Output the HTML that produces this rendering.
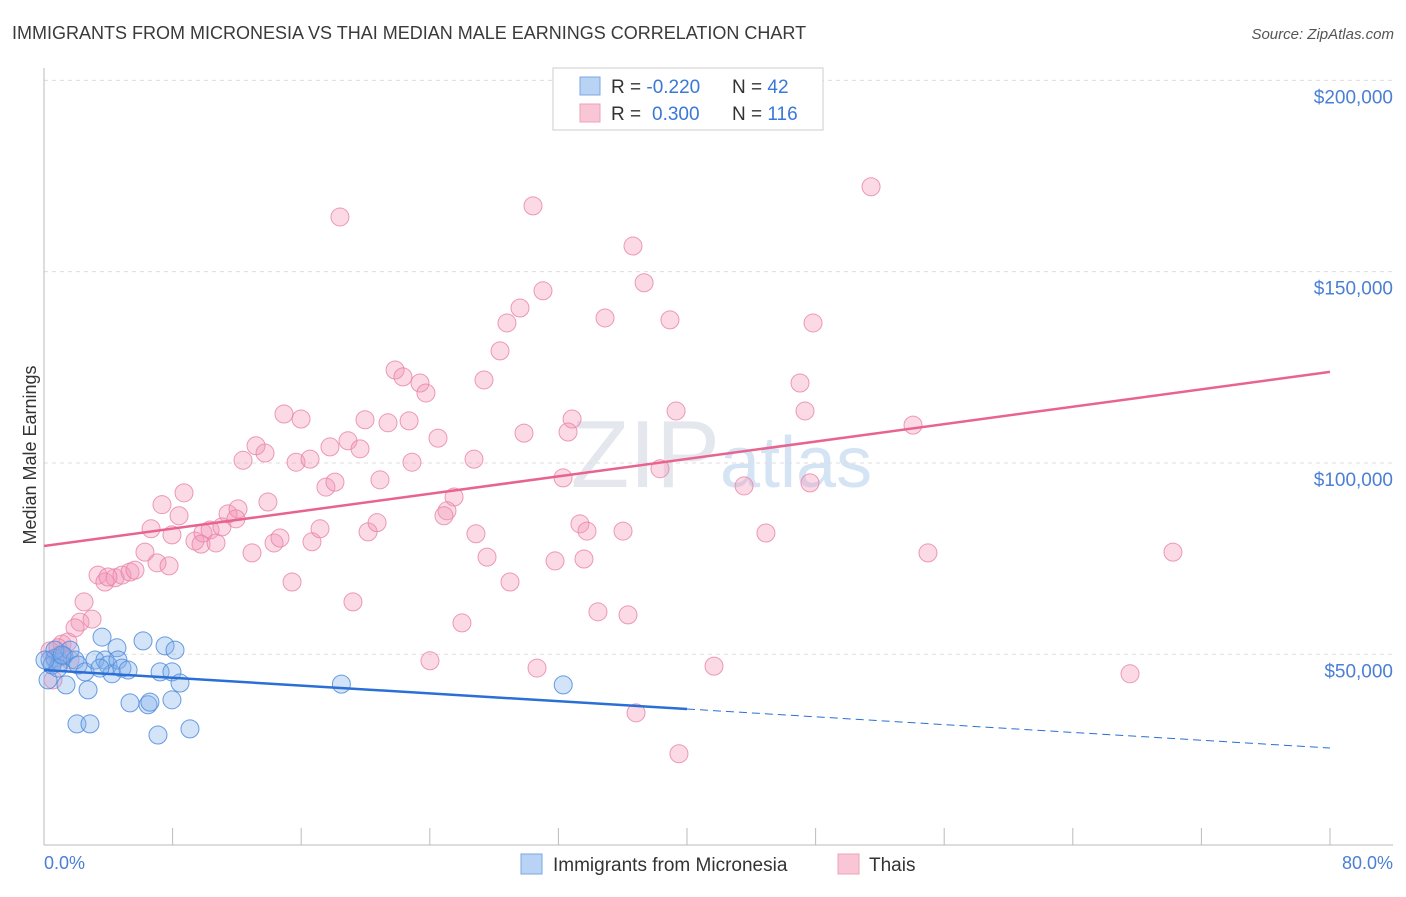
<!DOCTYPE html>
<html><head><meta charset="utf-8"><style>
body{margin:0;background:#fff;font-family:"Liberation Sans",sans-serif}
svg text{font-family:"Liberation Sans",sans-serif}
</style></head><body>
<svg id="chart" width="1406" height="892">
<text x="12" y="39" font-size="18" fill="#3a3a3a">IMMIGRANTS FROM MICRONESIA VS THAI MEDIAN MALE EARNINGS CORRELATION CHART</text>
<text x="1394" y="39" font-size="15" fill="#555" text-anchor="end" font-style="italic">Source: ZipAtlas.com</text>
<text x="720" y="487" font-size="96" fill="#e4e8ee" text-anchor="end" font-family="Liberation Serif">ZIP</text>
<text x="720" y="487" font-size="72" fill="#d5e4f5">atlas</text>
<g id="grid"></g><g id="axes"></g><g id="pts"></g><g id="lines"></g>
<text x="36" y="455" font-size="18" fill="#333" text-anchor="middle" transform="rotate(-90 36 455)">Median Male Earnings</text>
<text x="44" y="869" font-size="18" fill="#4a7fd4">0.0%</text>
<text x="1393" y="869" font-size="18" fill="#4a7fd4" text-anchor="end">80.0%</text>
<g>
<rect x="553" y="68" width="270" height="62" fill="#fff" stroke="#ccc"/>
<rect x="580" y="77" width="20" height="18" fill="#b9d3f5" stroke="#7aa7e6"/>
<rect x="580" y="104" width="20" height="18" fill="#f9c6d6" stroke="#eda0ba"/>
<text x="611" y="93" font-size="19" fill="#333">R = <tspan fill="#3a78d8">-0.220</tspan><tspan x="732">N = </tspan><tspan fill="#3a78d8">42</tspan></text>
<text x="611" y="120" font-size="19" fill="#333">R = <tspan fill="#3a78d8" x="652">0.300</tspan><tspan x="732">N = </tspan><tspan fill="#3a78d8">116</tspan></text>
</g>
<g>
<rect x="521" y="854" width="21" height="20" fill="#b9d3f5" stroke="#7aa7e6"/>
<text x="553" y="871" font-size="19" fill="#333">Immigrants from Micronesia</text>
<rect x="838" y="854" width="21" height="20" fill="#f9c6d6" stroke="#eda0ba"/>
<text x="869" y="871" font-size="19" fill="#333">Thais</text>
</g>
</svg>
<script>
const yTicks=[50000,100000,150000,200000];
const yTickLabels=["$50,000","$100,000","$150,000","$200,000"];
const xTicks=[0,8,16,24,32,40,48,56,64,72,80];
const blueX=[0.37,0.68,1.0,1.24,1.62,0.25,0.5,0.87,1.37,1.93,2.12,2.55,2.74,3.17,3.61,3.79,3.98,4.23,4.54,4.6,4.85,5.23,5.35,6.16,6.47,6.59,7.09,7.22,7.53,7.96,7.96,8.15,8.46,9.08,18.5,32.3,2.05,2.86,0.68,1.12,0.06,3.48];
const blueY=[48.5,49.0,48.0,49.6,51.1,43.3,47.2,46.4,42.0,48.5,47.2,45.4,40.7,48.5,54.5,48.5,47.2,44.9,51.7,48.5,46.4,45.9,37.3,53.5,36.8,37.5,28.9,45.4,52.2,45.4,38.1,51.1,42.5,30.5,42.2,42.0,31.8,31.8,51.1,49.8,48.5,46.4];
const pinkX=[51.45,18.41,30.42,36.64,37.33,31.04,29.61,28.8,34.9,38.94,47.84,28.37,21.84,22.33,23.39,23.76,27.37,47.03,14.93,15.99,19.97,21.4,22.71,32.85,39.32,47.34,54.06,13.19,13.75,17.79,18.91,19.66,24.51,29.86,32.6,15.68,16.55,12.38,22.89,26.75,8.71,7.34,8.4,11.45,12.07,13.93,17.54,18.1,20.9,25.51,38.32,43.55,47.65,32.29,6.66,7.96,9.39,9.89,10.33,11.07,9.77,10.7,11.94,14.31,14.68,16.67,17.17,20.16,20.72,25.07,24.88,26.87,33.34,33.78,36.02,44.91,6.28,7.03,7.78,12.94,27.56,31.79,33.59,54.99,70.23,3.36,3.79,4.42,4.85,5.35,5.66,3.98,15.43,28.99,2.49,2.24,1.93,2.99,19.22,26.0,34.46,36.33,1.12,1.49,0.37,0.87,0.56,24.01,30.67,41.68,67.56,36.83,39.5,0.68,1.0,1.62];
const pinkY=[172.2,164.3,167.2,156.7,147.1,145.0,140.5,136.6,137.9,137.4,136.6,129.3,124.3,122.5,120.9,118.3,121.7,120.9,112.8,111.5,111.3,110.5,111.0,111.5,113.6,113.6,109.9,104.5,102.6,104.2,105.8,103.7,106.5,107.8,108.1,100.2,101.0,100.7,100.2,101.0,92.2,89.1,86.2,86.7,88.0,89.8,93.7,95.0,95.6,91.1,98.5,94.0,94.8,96.1,82.8,81.2,79.6,81.7,82.5,83.3,78.8,79.1,85.4,79.1,80.4,79.4,82.8,82.0,84.4,87.5,86.2,81.5,84.1,82.2,82.2,81.7,76.7,73.9,73.1,76.5,75.4,74.4,74.9,76.5,76.7,70.7,68.9,70.0,70.7,71.5,72.0,70.2,68.9,68.9,63.7,58.4,56.9,59.2,63.7,58.2,61.1,60.3,52.7,53.2,50.9,51.7,43.3,48.3,46.4,46.9,44.9,34.7,24.0,48.5,49.8,48.5];
const pinkTrend=[78.3,123.8];
const blueTrend=[45.9,25.5];
const NS="http://www.w3.org/2000/svg";
const X=p=>44+p*1286/80;
const Y=v=>845.6-v*0.0038262;
function mk(t,a,parent){const e=document.createElementNS(NS,t);for(const k in a)e.setAttribute(k,a[k]);document.getElementById(parent).appendChild(e);return e;}
yTicks.forEach((v,i)=>{
 const l=mk('line',{x1:44,x2:1393,y1:Y(v),y2:Y(v),stroke:'#ddd','stroke-dasharray':'4,4'},'grid');
 
 
 const t=mk('text',{x:1393,y:Y(v)+23,'font-size':19,fill:'#4a7fd4','text-anchor':'end'},'grid');
 t.textContent=yTickLabels[i];
 
 
});
const ax=mk('line',{x1:44,x2:44,y1:68,y2:845,stroke:'#bbb'},'axes');


const bx=mk('line',{x1:44,x2:1393,y1:845,y2:845,stroke:'#bbb'},'axes');


xTicks.forEach(p=>{
 const t=mk('line',{x1:X(p),x2:X(p),y1:828,y2:845,stroke:'#bbb'},'axes');
 
 
});
pinkX.forEach((x,i)=>{
 const c=mk('circle',{cx:X(x),cy:Y(pinkY[i]*1000),r:9,fill:'rgba(244,150,182,0.35)',stroke:'rgba(232,130,165,0.8)','stroke-width':1},'pts');
 
 
});
blueX.forEach((x,i)=>{
 const c=mk('circle',{cx:X(x),cy:Y(blueY[i]*1000),r:9,fill:'rgba(130,175,235,0.35)',stroke:'rgba(80,140,220,0.85)','stroke-width':1},'pts');
 
 
});
const pl=mk('line',{x1:X(0),y1:Y(pinkTrend[0]*1000),x2:X(80),y2:Y(pinkTrend[1]*1000),stroke:'#e8648f','stroke-width':2.5},'lines');


const bm=blueTrend[0]+(blueTrend[1]-blueTrend[0])*0.5;
const bl=mk('line',{x1:X(0),y1:Y(blueTrend[0]*1000),x2:X(40),y2:Y(bm*1000),stroke:'#2a6fd6','stroke-width':2.5},'lines');


const bd=mk('line',{x1:X(40),y1:Y(bm*1000),x2:X(80),y2:Y(blueTrend[1]*1000),stroke:'#2a6fd6','stroke-width':1,'stroke-dasharray':'8,5'},'lines');


</script>
</body></html>
